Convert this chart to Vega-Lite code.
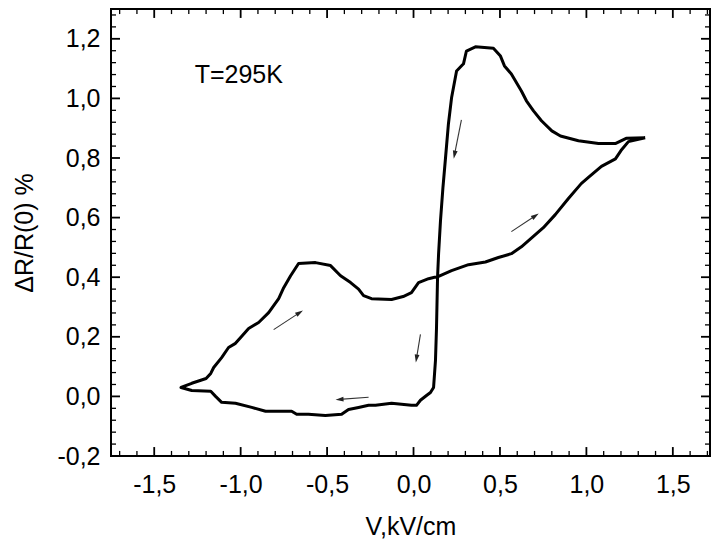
{
  "$schema": "https://vega.github.io/schema/vega-lite/v6.json",
  "width": 599,
  "height": 447,
  "padding": {"left": 12, "top": 8, "right": 0, "bottom": 0},
  "datasets": {
    "loop": [
      {"i": 1, "V": 1.34, "dR": 0.868},
      {"i": 2, "V": 1.23, "dR": 0.866},
      {"i": 3, "V": 1.17, "dR": 0.849},
      {"i": 4, "V": 1.07, "dR": 0.849},
      {"i": 5, "V": 0.954, "dR": 0.858},
      {"i": 6, "V": 0.85, "dR": 0.874},
      {"i": 7, "V": 0.8, "dR": 0.891},
      {"i": 8, "V": 0.74, "dR": 0.925},
      {"i": 9, "V": 0.694, "dR": 0.958},
      {"i": 10, "V": 0.653, "dR": 0.992},
      {"i": 11, "V": 0.624, "dR": 1.025},
      {"i": 12, "V": 0.566, "dR": 1.082},
      {"i": 13, "V": 0.526, "dR": 1.109},
      {"i": 14, "V": 0.503, "dR": 1.142},
      {"i": 15, "V": 0.462, "dR": 1.168},
      {"i": 16, "V": 0.358, "dR": 1.173},
      {"i": 17, "V": 0.306, "dR": 1.159},
      {"i": 18, "V": 0.289, "dR": 1.116},
      {"i": 19, "V": 0.249, "dR": 1.092},
      {"i": 20, "V": 0.22, "dR": 1.002},
      {"i": 21, "V": 0.202, "dR": 0.915},
      {"i": 22, "V": 0.185, "dR": 0.8},
      {"i": 23, "V": 0.17, "dR": 0.7},
      {"i": 24, "V": 0.156, "dR": 0.59},
      {"i": 25, "V": 0.145, "dR": 0.479},
      {"i": 26, "V": 0.139, "dR": 0.4},
      {"i": 27, "V": 0.133, "dR": 0.231},
      {"i": 28, "V": 0.127, "dR": 0.121},
      {"i": 29, "V": 0.116, "dR": 0.03},
      {"i": 30, "V": 0.098, "dR": 0.013},
      {"i": 31, "V": 0.075, "dR": 0.003},
      {"i": 32, "V": 0.04, "dR": -0.013},
      {"i": 33, "V": 0.017, "dR": -0.03},
      {"i": 34, "V": -0.012, "dR": -0.03},
      {"i": 35, "V": -0.127, "dR": -0.023},
      {"i": 36, "V": -0.22, "dR": -0.03},
      {"i": 37, "V": -0.26, "dR": -0.03},
      {"i": 38, "V": -0.318, "dR": -0.037},
      {"i": 39, "V": -0.376, "dR": -0.044},
      {"i": 40, "V": -0.416, "dR": -0.06},
      {"i": 41, "V": -0.51, "dR": -0.064},
      {"i": 42, "V": -0.608, "dR": -0.06},
      {"i": 43, "V": -0.676, "dR": -0.06},
      {"i": 44, "V": -0.705, "dR": -0.05},
      {"i": 45, "V": -0.856, "dR": -0.05},
      {"i": 46, "V": -0.936, "dR": -0.037},
      {"i": 47, "V": -1.03, "dR": -0.023},
      {"i": 48, "V": -1.11, "dR": -0.02},
      {"i": 49, "V": -1.145, "dR": 0.0},
      {"i": 50, "V": -1.173, "dR": 0.017},
      {"i": 51, "V": -1.283, "dR": 0.02},
      {"i": 52, "V": -1.345, "dR": 0.03},
      {"i": 53, "V": -1.283, "dR": 0.044},
      {"i": 54, "V": -1.2, "dR": 0.06},
      {"i": 55, "V": -1.173, "dR": 0.077},
      {"i": 56, "V": -1.156, "dR": 0.097},
      {"i": 57, "V": -1.11, "dR": 0.13},
      {"i": 58, "V": -1.07, "dR": 0.164},
      {"i": 59, "V": -1.03, "dR": 0.178},
      {"i": 60, "V": -1.0, "dR": 0.198},
      {"i": 61, "V": -0.954, "dR": 0.228},
      {"i": 62, "V": -0.896, "dR": 0.248},
      {"i": 63, "V": -0.838, "dR": 0.281},
      {"i": 64, "V": -0.78, "dR": 0.328},
      {"i": 65, "V": -0.751, "dR": 0.365},
      {"i": 66, "V": -0.711, "dR": 0.405},
      {"i": 67, "V": -0.665, "dR": 0.446},
      {"i": 68, "V": -0.567, "dR": 0.449},
      {"i": 69, "V": -0.48, "dR": 0.439},
      {"i": 70, "V": -0.422, "dR": 0.405},
      {"i": 71, "V": -0.364, "dR": 0.382},
      {"i": 72, "V": -0.318, "dR": 0.36},
      {"i": 73, "V": -0.289, "dR": 0.338},
      {"i": 74, "V": -0.243, "dR": 0.328},
      {"i": 75, "V": -0.127, "dR": 0.325},
      {"i": 76, "V": -0.06, "dR": 0.335},
      {"i": 77, "V": -0.012, "dR": 0.348},
      {"i": 78, "V": 0.029, "dR": 0.382},
      {"i": 79, "V": 0.087, "dR": 0.395},
      {"i": 80, "V": 0.145, "dR": 0.403},
      {"i": 81, "V": 0.22, "dR": 0.422},
      {"i": 82, "V": 0.318, "dR": 0.442},
      {"i": 83, "V": 0.416, "dR": 0.451},
      {"i": 84, "V": 0.491, "dR": 0.466},
      {"i": 85, "V": 0.566, "dR": 0.479},
      {"i": 86, "V": 0.624, "dR": 0.502},
      {"i": 87, "V": 0.68, "dR": 0.53},
      {"i": 88, "V": 0.751, "dR": 0.566},
      {"i": 89, "V": 0.82, "dR": 0.61},
      {"i": 90, "V": 0.896, "dR": 0.664},
      {"i": 91, "V": 0.97, "dR": 0.714},
      {"i": 92, "V": 1.01, "dR": 0.734},
      {"i": 93, "V": 1.087, "dR": 0.772},
      {"i": 94, "V": 1.168, "dR": 0.797},
      {"i": 95, "V": 1.2, "dR": 0.825},
      {"i": 96, "V": 1.243, "dR": 0.855},
      {"i": 97, "V": 1.34, "dR": 0.868}
    ],
    "arrows": [
      {"V": 0.277, "dR": 0.928, "V2": 0.237, "dR2": 0.811, "dir": 191},
      {"V": 0.566, "dR": 0.553, "V2": 0.705, "dR2": 0.606, "dir": 56},
      {"V": -0.809, "dR": 0.224, "V2": -0.659, "dR2": 0.281, "dir": 57},
      {"V": 0.04, "dR": 0.208, "V2": 0.017, "dR2": 0.127, "dir": 189},
      {"V": -0.26, "dR": -0.003, "V2": -0.428, "dR2": -0.01, "dir": 266}
    ],
    "label": [{"V": -1.266, "dR": 1.079, "text": "T=295K"}],
    "xticks": [
      {"t": -1.5, "kind": "major"}, {"t": -1.0, "kind": "major"}, {"t": -0.5, "kind": "major"}, {"t": 0.0, "kind": "major"},
      {"t": 0.5, "kind": "major"}, {"t": 1.0, "kind": "major"}, {"t": 1.5, "kind": "major"},
      {"t": -1.7, "kind": "minor"}, {"t": -1.6, "kind": "minor"}, {"t": -1.4, "kind": "minor"}, {"t": -1.3, "kind": "minor"},
      {"t": -1.2, "kind": "minor"}, {"t": -1.1, "kind": "minor"}, {"t": -0.9, "kind": "minor"}, {"t": -0.8, "kind": "minor"},
      {"t": -0.7, "kind": "minor"}, {"t": -0.6, "kind": "minor"}, {"t": -0.4, "kind": "minor"}, {"t": -0.3, "kind": "minor"},
      {"t": -0.2, "kind": "minor"}, {"t": -0.1, "kind": "minor"}, {"t": 0.1, "kind": "minor"}, {"t": 0.2, "kind": "minor"},
      {"t": 0.3, "kind": "minor"}, {"t": 0.4, "kind": "minor"}, {"t": 0.6, "kind": "minor"}, {"t": 0.7, "kind": "minor"},
      {"t": 0.8, "kind": "minor"}, {"t": 0.9, "kind": "minor"}, {"t": 1.1, "kind": "minor"}, {"t": 1.2, "kind": "minor"},
      {"t": 1.3, "kind": "minor"}, {"t": 1.4, "kind": "minor"}, {"t": 1.6, "kind": "minor"}, {"t": 1.7, "kind": "minor"}
    ],
    "yticks": [
      {"t": 0.0, "kind": "major"}, {"t": 0.2, "kind": "major"}, {"t": 0.4, "kind": "major"}, {"t": 0.6, "kind": "major"},
      {"t": 0.8, "kind": "major"}, {"t": 1.0, "kind": "major"}, {"t": 1.2, "kind": "major"},
      {"t": -0.16, "kind": "minor"}, {"t": -0.12, "kind": "minor"}, {"t": -0.08, "kind": "minor"}, {"t": -0.04, "kind": "minor"},
      {"t": 0.04, "kind": "minor"}, {"t": 0.08, "kind": "minor"}, {"t": 0.12, "kind": "minor"}, {"t": 0.16, "kind": "minor"},
      {"t": 0.24, "kind": "minor"}, {"t": 0.28, "kind": "minor"}, {"t": 0.32, "kind": "minor"}, {"t": 0.36, "kind": "minor"},
      {"t": 0.44, "kind": "minor"}, {"t": 0.48, "kind": "minor"}, {"t": 0.52, "kind": "minor"}, {"t": 0.56, "kind": "minor"},
      {"t": 0.64, "kind": "minor"}, {"t": 0.68, "kind": "minor"}, {"t": 0.72, "kind": "minor"}, {"t": 0.76, "kind": "minor"},
      {"t": 0.84, "kind": "minor"}, {"t": 0.88, "kind": "minor"}, {"t": 0.92, "kind": "minor"}, {"t": 0.96, "kind": "minor"},
      {"t": 1.04, "kind": "minor"}, {"t": 1.08, "kind": "minor"}, {"t": 1.12, "kind": "minor"}, {"t": 1.16, "kind": "minor"},
      {"t": 1.24, "kind": "minor"}, {"t": 1.28, "kind": "minor"}
    ]
  },
  "layer": [
    {
      "data": {"name": "loop"},
      "mark": {"type": "line", "color": "black", "strokeWidth": 3, "strokeJoin": "round"},
      "encoding": {
        "x": {"field": "V", "type": "quantitative",
          "scale": {"domain": [-1.75, 1.715], "nice": false, "zero": false},
          "axis": {"orient": "bottom", "values": [-1.5, -1, -0.5, 0, 0.5, 1, 1.5], "ticks": false, "tickSize": 0, "domain": false, "labelPadding": 16,
            "labelExpr": "(datum.value < 0 ? '-' : '') + replace(format(abs(datum.value), '.1f'), '.', ',')",
            "labelFlush": false, "labelOverlap": false, "title": "V,kV/cm", "titlePadding": 17}},
        "y": {"field": "dR", "type": "quantitative",
          "scale": {"domain": [-0.2, 1.3], "nice": false, "zero": false},
          "axis": {"orient": "left", "values": [-0.2, 0, 0.2, 0.4, 0.6, 0.8, 1, 1.2], "ticks": false, "tickSize": 0, "domain": false, "labelPadding": 11,
            "labelExpr": "(datum.value < 0 ? '-' : '') + replace(format(abs(datum.value), '.1f'), '.', ',')",
            "labelFlush": false, "labelOverlap": false, "title": "ΔR/R(0) %", "titlePadding": 19}},
        "order": {"field": "i", "type": "quantitative"}
      }
    },
    {
      "data": {"name": "arrows"},
      "mark": {"type": "rule", "color": "#333333", "strokeWidth": 1.1},
      "encoding": {
        "x": {"field": "V", "type": "quantitative"},
        "y": {"field": "dR", "type": "quantitative"},
        "x2": {"field": "V2"},
        "y2": {"field": "dR2"}
      }
    },
    {
      "data": {"name": "arrows"},
      "mark": {"type": "point", "shape": "M0,-1L-0.6,1L0.6,1Z", "filled": true, "color": "#222222", "size": 64, "opacity": 1},
      "encoding": {
        "x": {"field": "V2", "type": "quantitative"},
        "y": {"field": "dR2", "type": "quantitative"},
        "angle": {"field": "dir", "type": "quantitative", "scale": null}
      }
    },
    {
      "data": {"name": "label"},
      "mark": {"type": "text", "align": "left", "baseline": "middle", "fontSize": 25, "font": "Liberation Sans", "color": "black"},
      "encoding": {
        "x": {"field": "V", "type": "quantitative"},
        "y": {"field": "dR", "type": "quantitative"},
        "text": {"field": "text"}
      }
    },
    {
      "data": {"name": "xticks"},
      "transform": [{"filter": "datum.kind == 'major'"}],
      "mark": {"type": "rule", "color": "black", "strokeWidth": 1.8},
      "encoding": {"x": {"field": "t", "type": "quantitative"}, "y": {"datum": -0.2, "type": "quantitative"}, "y2": {"datum": -0.17}}
    },
    {
      "data": {"name": "xticks"},
      "transform": [{"filter": "datum.kind == 'minor'"}],
      "mark": {"type": "rule", "color": "black", "strokeWidth": 1.3},
      "encoding": {"x": {"field": "t", "type": "quantitative"}, "y": {"datum": -0.2, "type": "quantitative"}, "y2": {"datum": -0.183}}
    },
    {
      "data": {"name": "xticks"},
      "transform": [{"filter": "datum.kind == 'major'"}],
      "mark": {"type": "rule", "color": "black", "strokeWidth": 1.8},
      "encoding": {"x": {"field": "t", "type": "quantitative"}, "y": {"datum": 1.3, "type": "quantitative"}, "y2": {"datum": 1.27}}
    },
    {
      "data": {"name": "xticks"},
      "transform": [{"filter": "datum.kind == 'minor'"}],
      "mark": {"type": "rule", "color": "black", "strokeWidth": 1.3},
      "encoding": {"x": {"field": "t", "type": "quantitative"}, "y": {"datum": 1.3, "type": "quantitative"}, "y2": {"datum": 1.283}}
    },
    {
      "data": {"name": "yticks"},
      "transform": [{"filter": "datum.kind == 'major'"}],
      "mark": {"type": "rule", "color": "black", "strokeWidth": 1.8},
      "encoding": {"y": {"field": "t", "type": "quantitative"}, "x": {"datum": -1.75, "type": "quantitative"}, "x2": {"datum": -1.698}}
    },
    {
      "data": {"name": "yticks"},
      "transform": [{"filter": "datum.kind == 'minor'"}],
      "mark": {"type": "rule", "color": "black", "strokeWidth": 1.3},
      "encoding": {"y": {"field": "t", "type": "quantitative"}, "x": {"datum": -1.75, "type": "quantitative"}, "x2": {"datum": -1.721}}
    },
    {
      "data": {"name": "yticks"},
      "transform": [{"filter": "datum.kind == 'major'"}],
      "mark": {"type": "rule", "color": "black", "strokeWidth": 1.8},
      "encoding": {"y": {"field": "t", "type": "quantitative"}, "x": {"datum": 1.715, "type": "quantitative"}, "x2": {"datum": 1.663}}
    },
    {
      "data": {"name": "yticks"},
      "transform": [{"filter": "datum.kind == 'minor'"}],
      "mark": {"type": "rule", "color": "black", "strokeWidth": 1.3},
      "encoding": {"y": {"field": "t", "type": "quantitative"}, "x": {"datum": 1.715, "type": "quantitative"}, "x2": {"datum": 1.686}}
    }
  ],
  "config": {
    "view": {"stroke": "black", "strokeWidth": 2},
    "font": "Liberation Sans",
    "axis": {
      "grid": false,
      "labelColor": "black",
      "titleColor": "black",
      "labelFont": "Liberation Sans",
      "titleFont": "Liberation Sans",
      "labelFontSize": 25,
      "titleFontSize": 25,
      "titleFontWeight": "normal"
    }
  }
}
